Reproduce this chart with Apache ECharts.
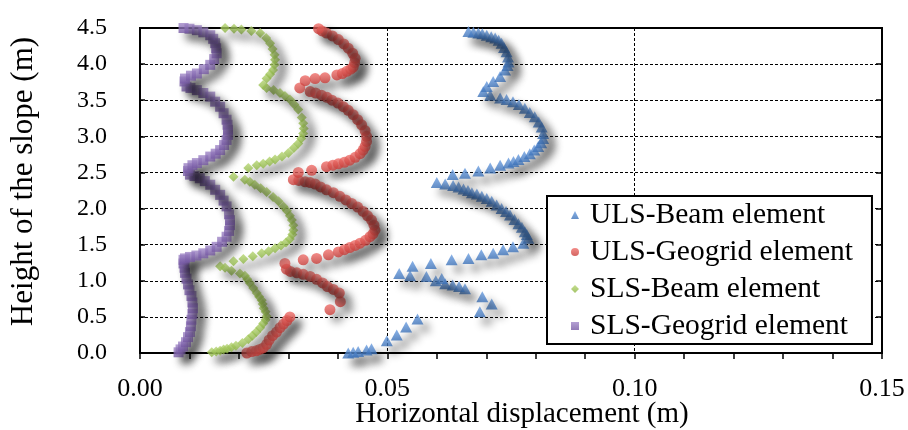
<!DOCTYPE html>
<html>
<head>
<meta charset="utf-8">
<script src="https://cdn.jsdelivr.net/npm/echarts@6/dist/echarts.min.js"></script>
<style>
  html, body { margin: 0; padding: 0; background: #fff; }
  #chart { width: 908px; height: 430px; }
</style>
</head>
<body>
<div id="chart"></div>
<script>
// series names (legend order)
const seriesNames = ['ULS-Beam element', 'ULS-Geogrid element', 'SLS-Beam element', 'SLS-Geogrid element'];
const legendIcons = ['triangle', 'circle', 'diamond', 'rect'];

// [horizontal displacement (m), height (m)]
const ulsBeam = [
  [0.0421,0.00],[0.0431,0.01],[0.0441,0.02],[0.0458,0.04],[0.0468,0.06],[0.0499,0.17],[0.0519,0.25],[0.0538,0.36],[0.0561,0.47],
  [0.0687,0.57],[0.0711,0.68],[0.0692,0.78],[0.0657,0.89],[0.0645,0.92],[0.0632,0.94],[0.0617,0.96],[0.0598,1.00],[0.0610,1.03],
  [0.0579,1.06],[0.0546,1.07],[0.0524,1.10],[0.0551,1.20],[0.0588,1.24],[0.0630,1.29],[0.0664,1.31],[0.0690,1.36],[0.0714,1.38],
  [0.0734,1.43],[0.0754,1.47],[0.0775,1.52],[0.0785,1.59],[0.0782,1.64],[0.0778,1.68],[0.0772,1.74],[0.0765,1.79],[0.0757,1.85],
  [0.0748,1.91],[0.0740,1.96],[0.0731,2.00],[0.0721,2.05],[0.0711,2.10],[0.0701,2.14],[0.0691,2.17],[0.0681,2.20],[0.0671,2.22],
  [0.0663,2.25],[0.0654,2.27],[0.0644,2.30],[0.0633,2.32],[0.0617,2.34],[0.0600,2.36],
  [0.0632,2.47],[0.0657,2.49],[0.0684,2.52],[0.0708,2.56],[0.0728,2.60],[0.0745,2.63],[0.0755,2.65],[0.0765,2.68],[0.0777,2.72],
  [0.0788,2.76],[0.0797,2.81],[0.0805,2.86],[0.0811,2.91],[0.0815,2.97],[0.0815,3.04],[0.0812,3.13],[0.0806,3.20],[0.0798,3.27],
  [0.0788,3.33],[0.0778,3.39],[0.0766,3.44],[0.0754,3.48],[0.0741,3.51],[0.0728,3.53],[0.0708,3.57],[0.0694,3.62],
  [0.0701,3.69],[0.0714,3.76],[0.0728,3.83],[0.0738,3.92],[0.0743,3.98],[0.0745,4.03],[0.0744,4.10],[0.0741,4.17],[0.0736,4.23],
  [0.0731,4.29],[0.0725,4.33],[0.0718,4.36],[0.0710,4.38],[0.0701,4.40],[0.0692,4.42],[0.0684,4.43],[0.0674,4.44],[0.0664,4.45]
];
const ulsGeogrid = [
  [0.0216,0.00],[0.0226,0.02],[0.0235,0.03],[0.0242,0.05],[0.0249,0.07],[0.0256,0.12],[0.0261,0.18],[0.0268,0.24],[0.0276,0.29],
  [0.0283,0.35],[0.0290,0.40],[0.0297,0.45],[0.0303,0.50],
  [0.0384,0.60],[0.0405,0.71],[0.0403,0.83],[0.0391,0.88],[0.0379,0.92],[0.0369,0.97],[0.0357,1.02],[0.0344,1.06],[0.0330,1.09],
  [0.0317,1.11],[0.0304,1.13],[0.0296,1.16],[0.0293,1.24],
  [0.0330,1.29],[0.0357,1.31],[0.0381,1.36],[0.0401,1.40],[0.0413,1.43],[0.0424,1.46],[0.0435,1.49],[0.0445,1.52],[0.0456,1.56],
  [0.0465,1.61],[0.0471,1.65],[0.0475,1.70],[0.0473,1.77],[0.0468,1.84],[0.0460,1.90],[0.0451,1.96],[0.0440,2.02],[0.0428,2.07],
  [0.0416,2.12],[0.0404,2.17],[0.0391,2.22],[0.0377,2.26],[0.0365,2.30],[0.0354,2.34],[0.0344,2.36],[0.0334,2.37],[0.0321,2.39],
  [0.0310,2.40],
  [0.0320,2.50],[0.0347,2.53],[0.0377,2.58],[0.0390,2.60],[0.0401,2.62],[0.0413,2.64],[0.0424,2.67],[0.0435,2.71],[0.0445,2.76],
  [0.0451,2.81],[0.0455,2.86],[0.0458,2.93],[0.0458,3.00],[0.0455,3.08],[0.0448,3.16],[0.0440,3.23],[0.0431,3.30],[0.0421,3.36],
  [0.0411,3.41],[0.0400,3.46],[0.0388,3.50],[0.0378,3.54],[0.0367,3.57],[0.0355,3.60],[0.0344,3.62],[0.0323,3.67],
  [0.0334,3.77],[0.0354,3.80],[0.0374,3.81],[0.0398,3.85],[0.0409,3.87],[0.0418,3.90],[0.0426,3.93],[0.0431,3.96],[0.0434,4.02],
  [0.0435,4.08],[0.0430,4.15],[0.0421,4.22],[0.0412,4.28],[0.0401,4.34],[0.0389,4.39],[0.0377,4.43],[0.0368,4.46],[0.0361,4.49]
];
const slsBeam = [
  [0.0145,0.01],[0.0154,0.02],[0.0162,0.03],[0.0169,0.05],[0.0176,0.06],[0.0185,0.08],[0.0194,0.10],[0.0207,0.14],[0.0219,0.19],
  [0.0227,0.24],[0.0235,0.29],[0.0243,0.35],[0.0249,0.41],[0.0254,0.46],[0.0256,0.51],[0.0254,0.57],[0.0250,0.62],[0.0248,0.68],
  [0.0246,0.73],[0.0241,0.78],[0.0236,0.83],[0.0229,0.90],[0.0222,0.97],[0.0217,1.02],[0.0212,1.07],[0.0202,1.10],[0.0185,1.14],
  [0.0172,1.18],[0.0162,1.20],
  [0.0189,1.27],[0.0209,1.30],[0.0228,1.34],[0.0246,1.38],[0.0260,1.41],[0.0273,1.45],[0.0285,1.49],[0.0295,1.53],[0.0303,1.58],
  [0.0308,1.64],[0.0310,1.70],[0.0310,1.77],[0.0307,1.84],[0.0303,1.90],[0.0297,1.97],[0.0290,2.03],[0.0280,2.10],[0.0269,2.16],
  [0.0256,2.23],[0.0244,2.28],[0.0232,2.33],[0.0222,2.37],[0.0212,2.40],[0.0189,2.44],
  [0.0219,2.56],[0.0236,2.60],[0.0249,2.62],[0.0262,2.65],[0.0273,2.68],[0.0287,2.72],[0.0300,2.77],[0.0311,2.84],[0.0320,2.90],
  [0.0326,2.97],[0.0330,3.04],[0.0331,3.11],[0.0330,3.18],[0.0327,3.26],[0.0320,3.37],[0.0312,3.44],[0.0303,3.51],[0.0293,3.56],
  [0.0283,3.60],[0.0270,3.64],[0.0256,3.67],[0.0249,3.71],
  [0.0256,3.80],[0.0263,3.86],[0.0269,3.92],[0.0272,3.99],[0.0273,4.06],[0.0272,4.13],[0.0268,4.21],[0.0263,4.29],[0.0255,4.36],
  [0.0243,4.43],[0.0225,4.46],[0.0205,4.48],[0.0190,4.49],[0.0172,4.50]
];
const slsGeogrid = [
  [0.0078,0.01],[0.0082,0.05],[0.0087,0.09],[0.0093,0.15],[0.0097,0.22],[0.0101,0.29],[0.0103,0.37],[0.0104,0.46],[0.0106,0.54],
  [0.0107,0.62],[0.0106,0.70],[0.0104,0.79],[0.0100,0.87],[0.0097,0.95],[0.0094,1.03],[0.0091,1.11],[0.0090,1.18],[0.0088,1.24],
  [0.0088,1.29],
  [0.0091,1.31],[0.0101,1.33],[0.0114,1.35],[0.0128,1.38],[0.0142,1.42],[0.0155,1.47],[0.0166,1.54],[0.0175,1.61],[0.0180,1.69],
  [0.0182,1.77],[0.0182,1.84],[0.0180,1.92],[0.0175,2.03],[0.0169,2.11],[0.0162,2.19],[0.0152,2.26],[0.0142,2.33],[0.0131,2.38],
  [0.0121,2.42],[0.0110,2.45],[0.0101,2.47],[0.0097,2.52],[0.0098,2.56],
  [0.0106,2.60],[0.0115,2.63],[0.0128,2.67],[0.0142,2.72],[0.0153,2.76],[0.0162,2.81],[0.0170,2.88],[0.0175,2.95],[0.0178,3.02],
  [0.0178,3.09],[0.0177,3.16],[0.0175,3.23],[0.0169,3.32],[0.0162,3.41],[0.0152,3.48],[0.0142,3.55],[0.0128,3.60],[0.0115,3.64],
  [0.0102,3.67],[0.0094,3.69],
  [0.0090,3.76],[0.0091,3.80],[0.0103,3.84],[0.0115,3.87],[0.0129,3.93],[0.0142,3.99],[0.0150,4.07],[0.0155,4.15],[0.0154,4.22],
  [0.0152,4.29],[0.0148,4.35],[0.0142,4.40],[0.0128,4.44],[0.0115,4.47],[0.0100,4.49],[0.0088,4.50]
];

const FONT = 'Liberation Serif';

function grad(top, bottom) {
  return new echarts.graphic.LinearGradient(0, 0, 0, 1, [
    { offset: 0, color: top },
    { offset: 1, color: bottom }
  ]);
}

const shadow = {
  shadowBlur: 8,
  shadowColor: 'rgba(0,0,0,0.6)',
  shadowOffsetX: 7,
  shadowOffsetY: 7
};

const myChart = echarts.init(document.getElementById('chart'), null, { renderer: 'canvas' });

const option = {
  animation: false,
  backgroundColor: '#fff',
  grid: {
    left: 140, right: 26, top: 28, bottom: 77,
    outerBoundsMode: 'none',
    containLabel: false,
    show: true, borderColor: '#000', borderWidth: 2
  },
  legend: {
    orient: 'vertical',
    left: 547, top: 196,
    padding: [4, 19, 3, 24],
    itemWidth: 8, itemHeight: 8,
    itemGap: 7,
    backgroundColor: '#fff',
    borderColor: '#000', borderWidth: 2,
    borderRadius: 0,
    itemStyle: { shadowBlur: 0, shadowOffsetX: 0, shadowOffsetY: 0, shadowColor: 'transparent' },
    textStyle: { fontFamily: FONT, fontSize: 29.5, lineHeight: 30, color: '#000', padding: [0, 0, 0, 6] },
    data: seriesNames.map((n, i) => ({ name: n, icon: legendIcons[i] }))
  },
  xAxis: {
    type: 'value',
    min: 0, max: 0.15, interval: 0.05,
    name: 'Horizontal displacement (m)',
    nameLocation: 'middle',
    nameGap: 47,
    nameMoveOverlap: false,
    nameTextStyle: { fontFamily: FONT, fontSize: 29, color: '#000', padding: [0, 0, 0, 22] },
    axisLine: { show: true, onZero: false, lineStyle: { color: '#000', width: 2 } },
    axisTick: { show: true, inside: false, length: 6, lineStyle: { color: '#000', width: 1.5 } },
    minorTick: { show: true, splitNumber: 5, length: 6, lineStyle: { color: '#000', width: 1.5 } },
    axisLabel: {
      margin: 23, fontFamily: FONT, fontSize: 26, color: '#000',
      formatter: v => v.toFixed(2)
    },
    splitLine: { show: true, lineStyle: { color: '#000', width: 1, type: [3, 2] } }
  },
  yAxis: [
    {
      type: 'value',
      min: 0, max: 4.5, interval: 0.5,
      name: 'Height of the slope (m)',
      nameLocation: 'middle',
      nameGap: 101,
      nameMoveOverlap: false,
      nameTextStyle: { fontFamily: FONT, fontSize: 31, color: '#000', padding: [0, 0, 0, 18] },
      axisLine: { show: true, onZero: false, lineStyle: { color: '#000', width: 2 } },
      axisTick: { show: true, inside: true, length: 5, lineStyle: { color: '#000', width: 1.5 } },
      axisLabel: {
        margin: 33, fontFamily: FONT, fontSize: 24, color: '#000',
        formatter: v => v.toFixed(1)
      },
      splitLine: { show: true, lineStyle: { color: '#000', width: 1, type: [3, 2] } }
    },
    {
      type: 'value',
      position: 'right',
      min: 0, max: 4.5, interval: 0.5,
      axisLine: { show: true, onZero: false, lineStyle: { color: '#000', width: 2 } },
      axisTick: { show: true, inside: true, length: 6, lineStyle: { color: '#000', width: 1.5 } },
      axisLabel: { show: false },
      splitLine: { show: false }
    }
  ],
  series: [
    {
      name: seriesNames[0], type: 'scatter', data: ulsBeam,
      symbol: 'triangle', symbolSize: [12, 11],
      itemStyle: Object.assign({ color: grad('#6c9fe2', '#3d72b8') }, shadow)
    },
    {
      name: seriesNames[1], type: 'scatter', data: ulsGeogrid,
      symbol: 'circle', symbolSize: 11,
      itemStyle: Object.assign({ color: grad('#f0706b', '#c93f3b') }, shadow)
    },
    {
      name: seriesNames[2], type: 'scatter', data: slsBeam,
      symbol: 'diamond', symbolSize: 10,
      itemStyle: Object.assign({ color: grad('#b6d672', '#8db544') }, shadow)
    },
    {
      name: seriesNames[3], type: 'scatter', data: slsGeogrid,
      symbol: 'rect', symbolSize: 10,
      itemStyle: Object.assign({ color: grad('#a188c8', '#7659a4') }, shadow)
    }
  ]
};

myChart.setOption(option);
window.addEventListener('resize', () => {
  myChart.resize();
});
</script>
</body>
</html>
